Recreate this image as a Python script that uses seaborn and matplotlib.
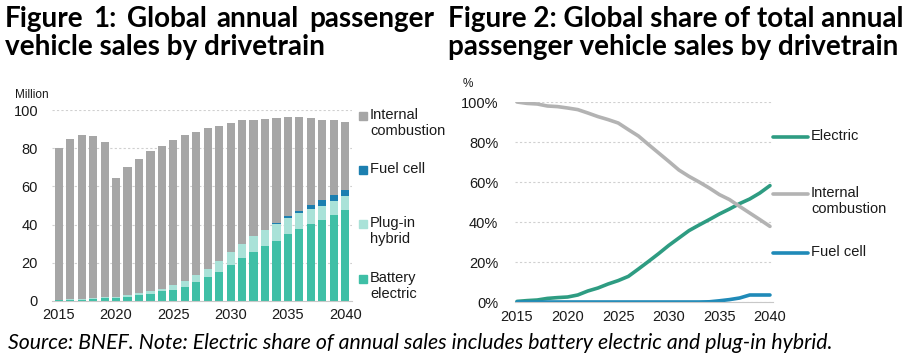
import numpy as np
import pandas as pd
import matplotlib
matplotlib.use("Agg")
import matplotlib.pyplot as plt
import seaborn as sns

# ---------------- data ----------------
years = list(range(2015, 2041))
total_sales = [80, 84.6, 86.9, 86.3, 83.4, 64.3, 70, 74.4, 78.3, 81.3, 84.4, 87, 88.6,
               90.4, 91.6, 93.3, 94.6, 94.9, 95.4, 95.8, 96.3, 96.3, 95.8, 94.9, 94.6, 93.5]
battery_electric = [0.3, 0.5, 0.7, 1.2, 1.5, 1.5, 2.3, 3.2, 3.9, 5.1, 6.0, 7.5, 10.2,
                    12.4, 15.2, 18.9, 22.4, 25.7, 28.7, 31.5, 35.0, 37.6, 40.3, 42.2, 45.0, 47.5]
plug_in_hybrid = [0.2, 0.3, 0.3, 0.6, 0.5, 0.5, 0.7, 1.2, 1.5, 1.4, 2.4, 3.2, 3.6,
                  4.6, 6.0, 6.8, 7.4, 8.3, 8.3, 8.8, 8.4, 8.4, 7.9, 7.4, 7.4, 7.3]
fuel_cell = [0, 0, 0, 0, 0, 0, 0, 0, 0, 0, 0, 0, 0,
             0, 0, 0, 0, 0, 0, 0.4, 0.9, 1.3, 1.9, 3.5, 3.1, 3.2]

share_electric = [0.3, 0.7, 1.0, 1.8, 2.2, 2.5, 3.5, 5.5, 7.0, 9.0, 10.7, 12.8, 16.5,
                  20.3, 24.2, 28.3, 32.0, 35.7, 38.5, 41.2, 44.0, 46.5, 49.2, 51.5, 54.5, 58.2]
share_ice = [100, 99.3, 99.0, 98.0, 97.7, 97.0, 96.2, 94.5, 92.7, 91.2, 89.5, 86.2, 83.0,
             78.7, 74.5, 70.3, 66.0, 62.8, 60.0, 57.0, 53.7, 51.2, 47.8, 44.5, 41.2, 37.8]
share_fuel_cell = [0, 0, 0, 0, 0, 0, 0, 0, 0, 0, 0, 0, 0,
                   0, 0, 0, 0, 0, 0, 0.1, 0.6, 1.2, 2.0, 3.5, 3.5, 3.5]

# ---------------- styles ----------------
C_ICE = "#a6a6a6"
C_FC = "#1c7fb0"
C_PHEV = "#a9e2d8"
C_BEV = "#3fbfa6"
L_EL = "#2e9c82"
L_ICE = "#b3b3b3"
L_FC = "#1f8ab8"
TXT = "#1a1a1a"

sns.set_theme(style="white")
plt.rcParams["font.family"] = ["Liberation Sans", "DejaVu Sans"]
plt.rcParams["axes.unicode_minus"] = False

W, H = 914, 358
fig = plt.figure(figsize=(W / 100, H / 100), dpi=100)
renderer = fig.canvas.get_renderer()

def ax_rect(l, t, r, b):
    return [l / W, 1 - b / H, (r - l) / W, (b - t) / H]

# ---------------- Figure 1: stacked bars ----------------
ax1 = fig.add_axes(ax_rect(52, 110, 352, 301))
df1 = pd.DataFrame({"year": years, "total": total_sales, "bev": battery_electric,
                    "phev": plug_in_hybrid, "fc": fuel_cell})
df1["l_bev"] = df1["bev"]
df1["l_phev"] = df1["bev"] + df1["phev"]
df1["l_fc"] = df1["l_phev"] + df1["fc"]
df1["l_ice"] = df1["total"]
for col, c in [("l_ice", C_ICE), ("l_fc", C_FC), ("l_phev", C_PHEV), ("l_bev", C_BEV)]:
    sns.barplot(data=df1, x="year", y=col, color=c, width=0.72, saturation=1,
                linewidth=0, ax=ax1)
ax1.set_ylim(0, 100)
ax1.set_xlim(-0.6, len(years) - 0.4)
ax1.set_yticks([0, 20, 40, 60, 80, 100])
ax1.set_yticklabels(["0", "20", "40", "60", "80", "100"])
ax1.set_xticks([0, 5, 10, 15, 20, 25])
ax1.set_xticklabels([str(y) for y in years[::5]])
ax1.set_xticks(np.arange(-0.5, len(years), 1), minor=True)
ax1.tick_params(axis="x", which="major", length=0, labelsize=10.5, colors=TXT, pad=5)
ax1.tick_params(axis="x", which="minor", length=3, color="#c8c8c8", width=0.8, direction="out")
ax1.tick_params(axis="y", length=0, labelsize=10.5, colors=TXT, pad=10)
ax1.set_xlabel("")
ax1.set_ylabel("")
ax1.yaxis.grid(True, linestyle=(0, (2, 2)), color="#d0d0d0", linewidth=0.8)
ax1.set_axisbelow(True)
for s in ["top", "right", "left"]:
    ax1.spines[s].set_visible(False)
ax1.spines["bottom"].set_color("#c8c8c8")
ax1.spines["bottom"].set_linewidth(0.8)
fig.text(15 / W, 1 - 95 / H, "Million", fontsize=8.5, color=TXT, va="center", ha="left")

# legend fig 1 (manual placement to match the reference)
leg1 = [("Internal\ncombustion", C_ICE, 116), ("Fuel cell", C_FC, 170),
        ("Plug-in\nhybrid", C_PHEV, 224), ("Battery\nelectric", C_BEV, 279)]
for lab, c, yy in leg1:
    fig.patches.append(plt.Rectangle(((359) / W, 1 - (yy + 4) / H), 8 / W, 8 / H,
                                     transform=fig.transFigure, color=c, figure=fig))
    fig.text(370 / W, 1 - (yy - 8) / H, lab, fontsize=10.5, color=TXT, va="top",
             ha="left", linespacing=1.15)

# ---------------- Figure 2: lines ----------------
ax2 = fig.add_axes(ax_rect(515, 102, 773, 302))
df2 = pd.DataFrame({"year": years * 3,
                    "share": [v / 100 for v in share_electric + share_ice + share_fuel_cell],
                    "series": ["Electric"] * 26 + ["Internal combustion"] * 26 + ["Fuel cell"] * 26})
sns.lineplot(data=df2, x="year", y="share", hue="series",
             palette={"Electric": L_EL, "Internal combustion": L_ICE, "Fuel cell": L_FC},
             linewidth=2.6, legend=False, ax=ax2)
ax2.set_ylim(0, 1.0)
ax2.set_xlim(2014.8, 2040.3)
ax2.set_yticks([0, 0.2, 0.4, 0.6, 0.8, 1.0])
ax2.set_yticklabels(["0%", "20%", "40%", "60%", "80%", "100%"])
ax2.set_xticks(years[::5])
ax2.set_xticklabels([str(y) for y in years[::5]])
ax2.set_xticks(years, minor=True)
ax2.tick_params(axis="x", which="both", length=3, color="#c8c8c8", width=0.8,
                labelsize=10.5, colors=TXT, pad=3)
ax2.tick_params(axis="y", length=0, labelsize=10.5, colors=TXT, pad=12)
ax2.set_xlabel("")
ax2.set_ylabel("")
ax2.yaxis.grid(True, linestyle=(0, (2, 2)), color="#d0d0d0", linewidth=0.8)
ax2.set_axisbelow(True)
for s in ["top", "right", "left"]:
    ax2.spines[s].set_visible(False)
ax2.spines["bottom"].set_color("#c8c8c8")
ax2.spines["bottom"].set_linewidth(0.8)
fig.text(463 / W, 1 - 84 / H, "%", fontsize=8.5, color=TXT, va="center", ha="left")

leg2 = [("Electric", L_EL, 137), ("Internal\ncombustion", L_ICE, 194), ("Fuel cell", L_FC, 253)]
for lab, c, yy in leg2:
    fig.lines.append(plt.Line2D([773 / W, 808 / W], [1 - yy / H, 1 - yy / H],
                                transform=fig.transFigure, color=c, linewidth=2.6, figure=fig))
    fig.text(811 / W, 1 - (yy - 8) / H, lab, fontsize=10.5, color=TXT, va="top",
             ha="left", linespacing=1.15)

# ---------------- titles & footer ----------------
TF = ["Lato", "DejaVu Sans"]

def fit_text(x0, x1, yc, s, base=16, **kw):
    t = fig.text(x0 / W, 1 - yc / H, s, fontsize=base, ha="left", va="center",
                 family=TF, color="black", **kw)
    wpx = t.get_window_extent(renderer=renderer).width
    t.set_fontsize(base * (x1 - x0) / wpx)
    return t

t_r1 = fit_text(448, 905, 19, "Figure 2: Global share of total annual", fontweight="bold")
tsize = t_r1.get_fontsize()
fit_text(448, 901, 47, "passenger vehicle sales by drivetrain", fontweight="bold")
fig.text(5 / W, 1 - 47 / H, "vehicle sales by drivetrain", fontsize=tsize, fontweight="bold",
         family=TF, ha="left", va="center", color="black")

# left title line 1, justified between x=5 and x=434 as in the reference
words = ["Figure", "1:", "Global", "annual", "passenger"]
wtexts = [fig.text(0, 1 - 19 / H, w, fontsize=tsize, fontweight="bold", family=TF,
                   ha="left", va="center", color="black") for w in words]
widths = [t.get_window_extent(renderer=renderer).width for t in wtexts]
gap = (434 - 5 - sum(widths)) / (len(words) - 1)
x = 5
for t, wpx in zip(wtexts, widths):
    t.set_x(x / W)
    x += wpx + gap

fit_text(8, 838, 343,
         "Source: BNEF. Note: Electric share of annual sales includes battery electric and plug-in hybrid.",
         base=12.5, style="italic")

fig.savefig("out.png", dpi=100, facecolor="white")
